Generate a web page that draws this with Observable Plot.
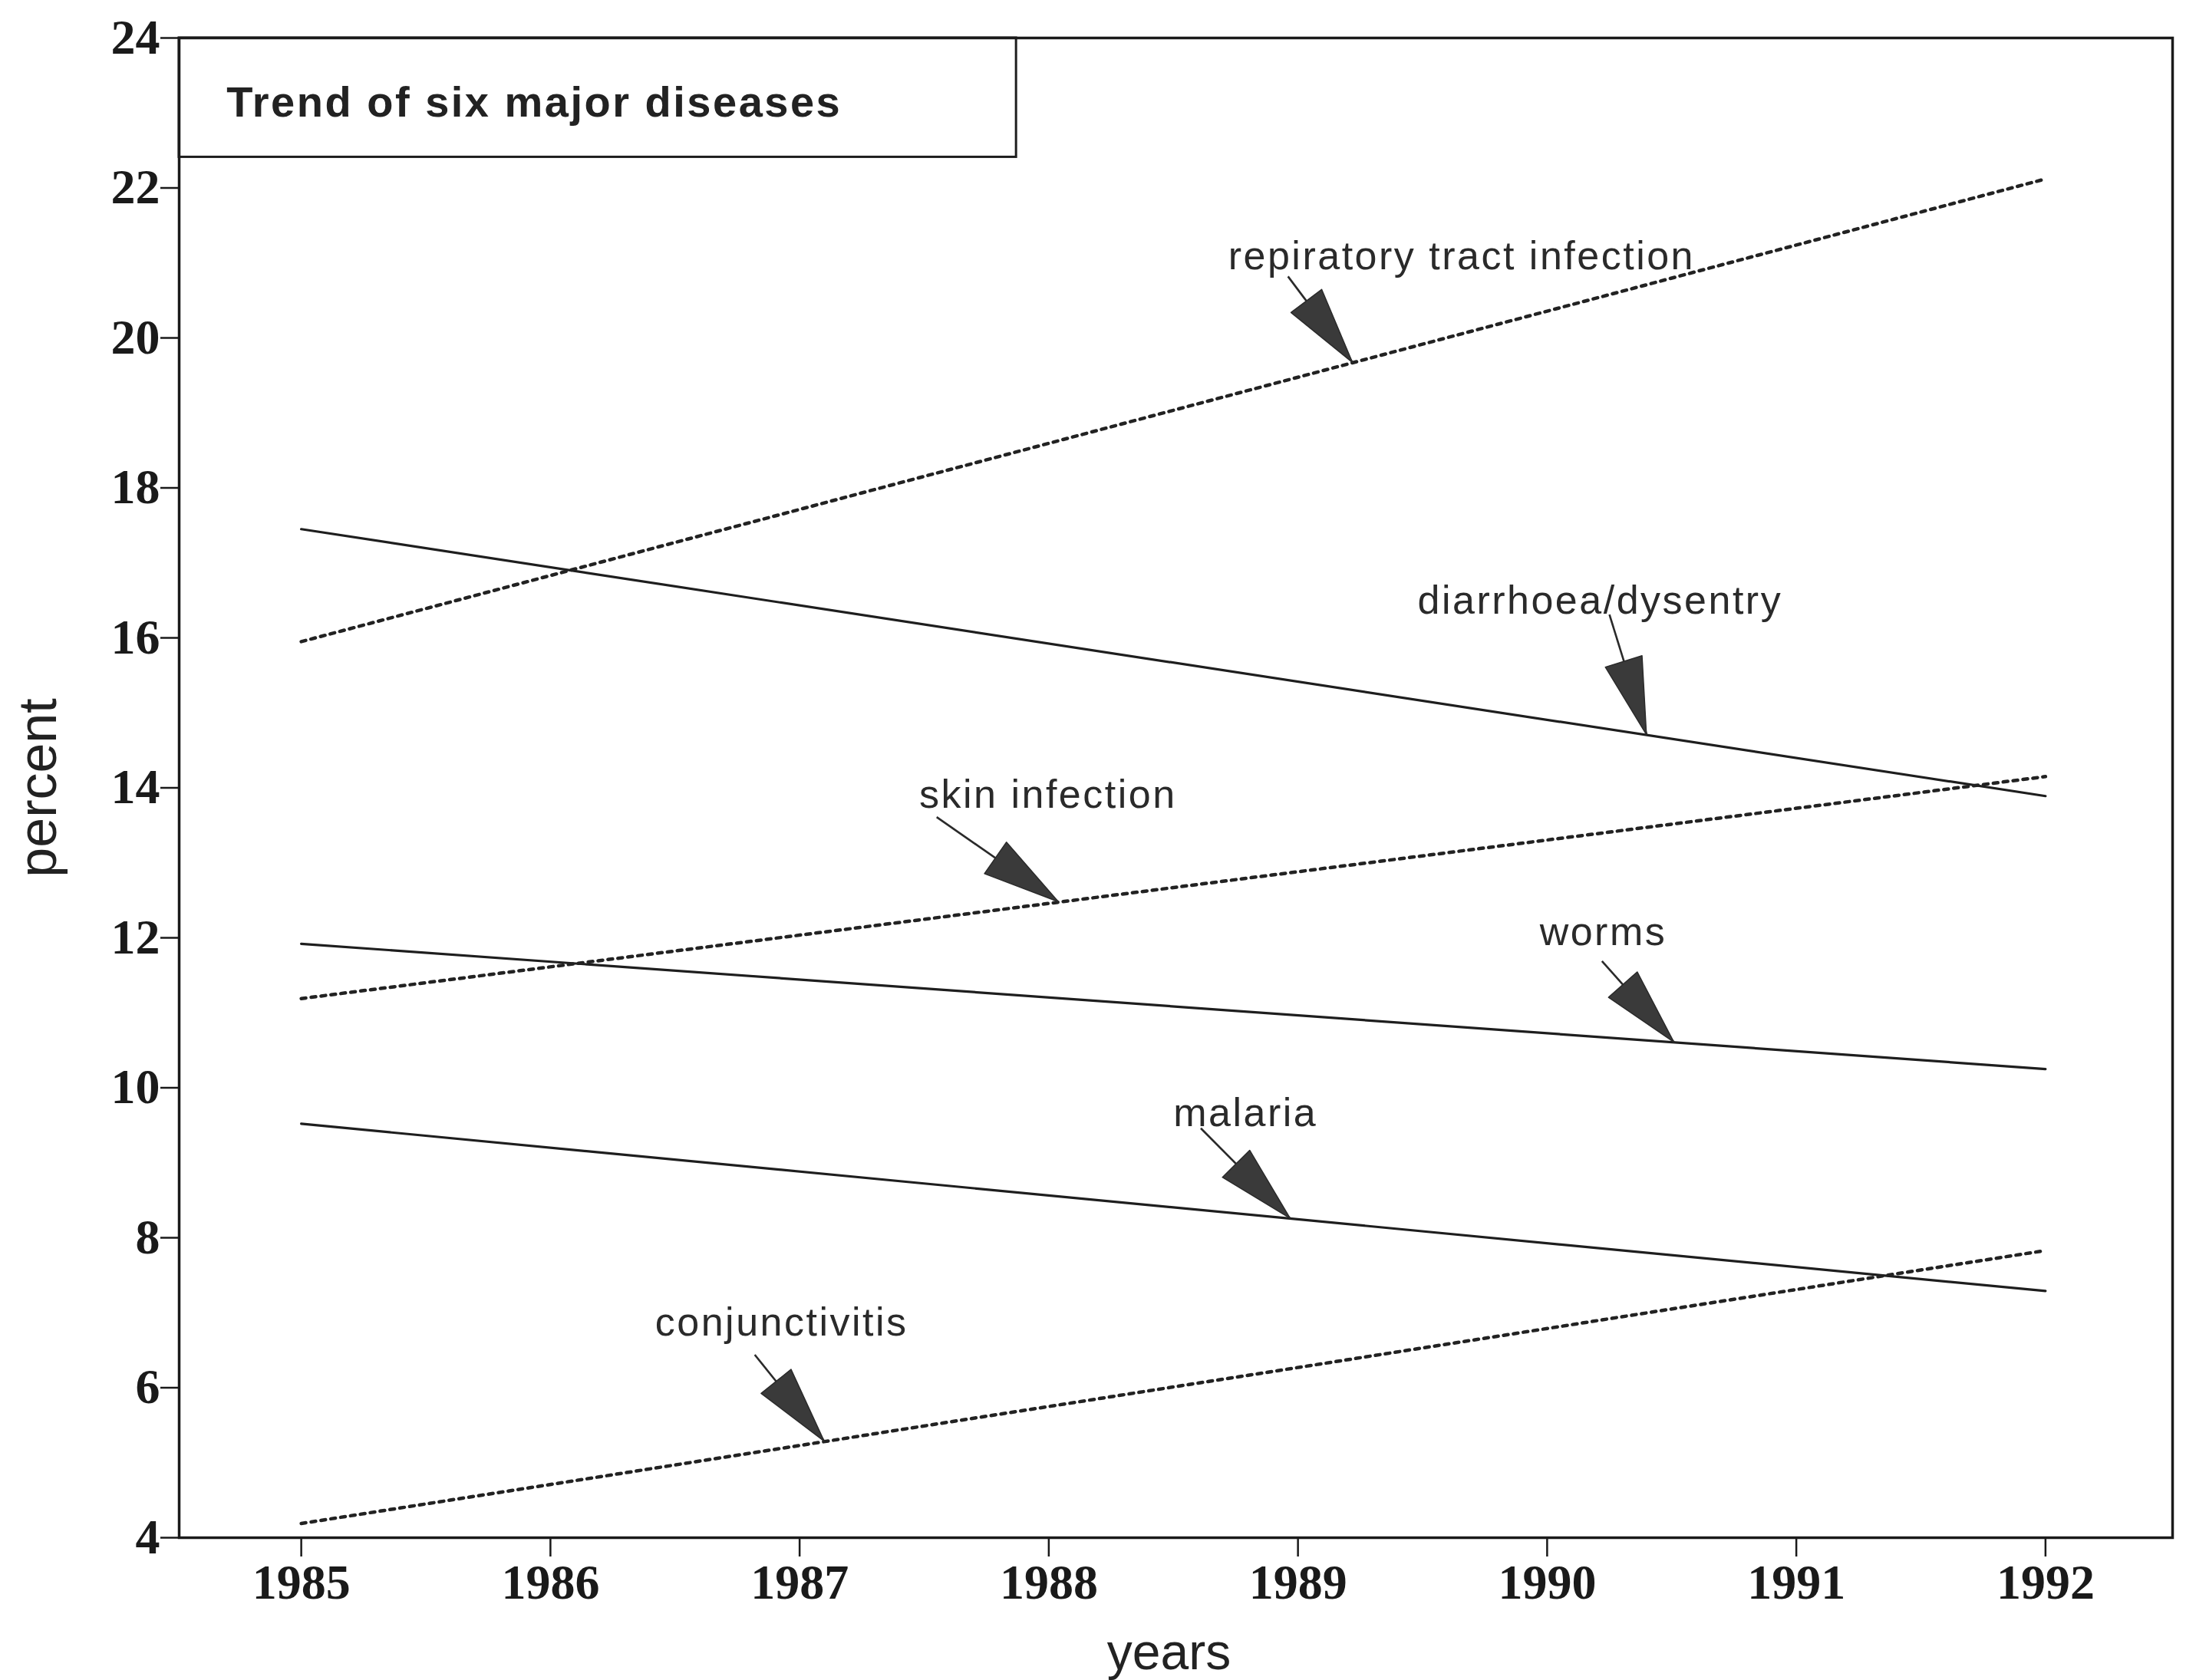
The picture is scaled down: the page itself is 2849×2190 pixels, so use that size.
<!DOCTYPE html>
<html>
<head>
<meta charset="utf-8">
<script src="https://cdn.jsdelivr.net/npm/d3@7"></script>
<script src="https://cdn.jsdelivr.net/npm/@observablehq/plot@0.6"></script>
<style>
  body { margin: 0; background: #fff; }
</style>
</head>
<body>
<div id="chart"></div>
<script>
// ---- data ----
const years = [1985, 1992];
const respiratory = [15.95, 22.12];
const diarrhoea = [17.45, 13.89];
const skin = [11.19, 14.15];
const worms = [11.92, 10.25];
const malaria = [9.52, 7.29];
const conjunctivitis = [4.19, 7.83];

const seriesNames = ["respiratory", "diarrhoea", "skin", "worms", "malaria", "conjunctivitis"];
const seriesValues = [respiratory, diarrhoea, skin, worms, malaria, conjunctivitis];
const seriesDotted = [true, false, true, false, false, true];

const labelTexts = ["repiratory tract infection", "diarrhoea/dysentry", "skin infection", "worms", "malaria", "conjunctivitis"];
const labelYears = [1988.72, 1989.48, 1987.48, 1989.97, 1988.50, 1986.42];
const labelValues = [20.92, 16.32, 13.73, 11.90, 9.49, 6.70];
const tailYears = [1988.96, 1990.25, 1987.55, 1990.22, 1988.61, 1986.82];
const tailValues = [20.82, 16.31, 13.61, 11.69, 9.46, 6.44];
const tipYears = [1989.22, 1990.40, 1988.04, 1990.51, 1988.97, 1987.10];

const xTicks = [1985, 1986, 1987, 1988, 1989, 1990, 1991, 1992];
const yTicks = [4, 6, 8, 10, 12, 14, 16, 18, 20, 22, 24];
const xDomain = [1984.51, 1992.51];
const yDomain = [4, 24];

const titleText = "Trend of six major diseases";
const titleBox = {x1: 1984.51, x2: 1987.87, y1: 22.41, y2: 24};
const titlePos = {x: 1984.70, y: 22.95};

// ---- build tables ----
const lineRows = [];
seriesNames.forEach((name, i) => {
  years.forEach((yr, j) => lineRows.push({name, year: yr, value: seriesValues[i][j], dotted: seriesDotted[i]}));
});
function valueOn(i, yr) {
  const v = seriesValues[i];
  return v[0] + (yr - years[0]) / (years[1] - years[0]) * (v[1] - v[0]);
}
const annRows = labelTexts.map((t, i) => ({
  text: t,
  lx: labelYears[i], ly: labelValues[i],
  tx: tailYears[i], ty: tailValues[i],
  px: tipYears[i], py: valueOn(i, tipYears[i])
}));

const HEAD_LEN = 100, HEAD_W = 50;
function arrowHeads(index, scales) {
  const g = d3.create("svg:g").attr("aria-label", "arrowheads");
  for (const a of annRows) {
    const x1 = scales.x(a.tx), y1 = scales.y(a.ty);
    const x2 = scales.x(a.px), y2 = scales.y(a.py);
    const dx = x2 - x1, dy = y2 - y1, len = Math.hypot(dx, dy);
    const ux = dx / len, uy = dy / len;
    const bx = x2 - ux * HEAD_LEN, by = y2 - uy * HEAD_LEN;
    const nx = -uy * HEAD_W / 2, ny = ux * HEAD_W / 2;
    g.append("path")
      .attr("d", `M${x2},${y2}L${bx + nx},${by + ny}L${bx - nx},${by - ny}Z`)
      .attr("fill", "#3a3a3a")
      .attr("stroke", "#2a2a2a")
      .attr("stroke-width", 1.5)
      .attr("stroke-linejoin", "round");
  }
  return g.node();
}

const chart = Plot.plot({
  width: 2849,
  height: 2190,
  marginLeft: 233,
  marginRight: 18,
  marginTop: 49,
  marginBottom: 186,
  style: {background: "#fff", fontFamily: "Liberation Sans", overflow: "visible"},
  x: {domain: xDomain, label: null},
  y: {domain: yDomain, label: null},
  marks: [
    Plot.line(lineRows.filter(d => !d.dotted), {x: "year", y: "value", z: "name", stroke: "#1e1e1e", strokeWidth: 3.2}),
    Plot.line(lineRows.filter(d => d.dotted), {x: "year", y: "value", z: "name", stroke: "#222", strokeWidth: 4.5, strokeDasharray: "6,7"}),
    Plot.link(annRows, {x1: "tx", y1: "ty", x2: "px", y2: "py", stroke: "#2a2a2a", strokeWidth: 2.6}),
    arrowHeads,
    Plot.text(annRows, {x: "lx", y: "ly", text: "text", textAnchor: "start", lineAnchor: "bottom", fontSize: 52, fontFamily: "Liberation Sans", fill: "#2a2a2a"}),
    Plot.rect([titleBox], {x1: "x1", x2: "x2", y1: "y1", y2: "y2", fill: "none", stroke: "#1e1e1e", strokeWidth: 3}),
    Plot.text([titlePos], {x: "x", y: "y", text: () => titleText, textAnchor: "start", lineAnchor: "bottom", fontSize: 56, fontWeight: "bold", fontFamily: "Liberation Sans", fill: "#222"}),
    Plot.axisY({ticks: yTicks, tickSize: 24, tickPadding: 1, fontSize: 64, fontFamily: "Liberation Serif", fontWeight: "bold", fill: "#1a1a1a", stroke: "#1a1a1a", strokeWidth: 2.5, label: null, tickFormat: d => String(d)}),
    Plot.axisX({ticks: xTicks, tickSize: 25, tickPadding: 9, fontSize: 64, fontFamily: "Liberation Serif", fontWeight: "bold", fill: "#1a1a1a", stroke: "#1a1a1a", strokeWidth: 2.5, label: null, tickFormat: d => String(d)}),
    Plot.frame({stroke: "#1a1a1a", strokeWidth: 3.5}),
    Plot.text(["percent"], {frameAnchor: "left", rotate: -90, dx: -183, textAnchor: "middle", lineAnchor: "middle", fontSize: 70, fontFamily: "Liberation Sans", fill: "#222"}),
    Plot.text(["years"], {frameAnchor: "bottom", dx: -9, dy: 171, textAnchor: "middle", lineAnchor: "bottom", fontSize: 66, fontFamily: "Liberation Sans", fill: "#222"})
  ]
});
// letter spacing for the sans labels (the scanned original is loosely set)
d3.select(chart).selectAll("text").each(function () {
  const t = this.textContent;
  if (labelTexts.includes(t) || t === titleText) this.style.letterSpacing = "2.5px";
});
document.getElementById("chart").appendChild(chart);
</script>
</body>
</html>
